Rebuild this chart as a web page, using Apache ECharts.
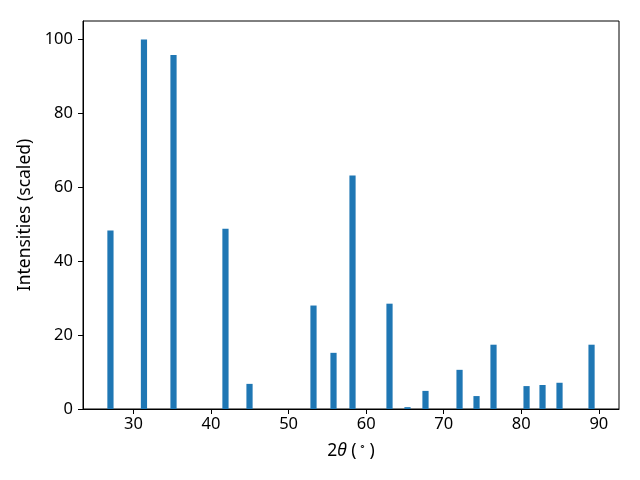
<!DOCTYPE html>
<html>
<head>
<meta charset="utf-8">
<script src="https://cdn.jsdelivr.net/npm/echarts@6/dist/echarts.min.js"></script>
<style>html,body{margin:0;padding:0;background:#fff}#c{width:640px;height:480px}</style>
</head>
<body>
<div id="c"></div>
<script>
const twoTheta = [27.03, 31.35, 35.16, 41.86, 44.96, 53.21, 55.79, 58.24, 63.01, 65.33, 67.65, 72.04, 74.23, 76.42, 80.68, 82.74, 84.93, 89.06];
const intensity = [48.3, 100, 95.8, 48.8, 6.8, 28.0, 15.2, 63.2, 28.5, 0.5, 4.9, 10.6, 3.5, 17.4, 6.2, 6.5, 7.1, 17.4];
const xTicks = [30, 40, 50, 60, 70, 80, 90];
const yTicks = [0, 20, 40, 60, 80, 100];
const barWidthUnits = 0.8;

const data = twoTheta.map((x, i) => [x, intensity[i]]);
const chart = echarts.init(document.getElementById('c'), null, {renderer: 'canvas'});
const font = 'Noto Sans';
const fs = 16.5;
const nfs = 17.5;
chart.setOption({
  animation: false,
  backgroundColor: '#fff',
  grid: {left: 83, right: 21, top: 21, bottom: 71, show: true, borderColor: '#000', borderWidth: 1, backgroundColor: 'transparent'},
  xAxis: {
    type: 'value', min: 23.49, max: 92.6,
    splitLine: {show: false},
    axisLine: {show: true, onZero: false, lineStyle: {color: '#000', width: 1}},
    axisTick: {show: true, length: 5, lineStyle: {color: '#000'}, customValues: xTicks},
    axisLabel: {color: '#000', fontSize: fs, fontFamily: font, margin: 7, customValues: xTicks},
    name: '{n|2}{i|θ}{n| (}{s|∘}{n|)}',
    nameLocation: 'middle', nameGap: 32,
    nameTextStyle: {
      color: '#000', fontFamily: font, fontSize: nfs,
      rich: {
        n: {fontSize: nfs, fontFamily: font, color: '#000'},
        i: {fontSize: nfs, fontFamily: font, fontStyle: 'italic', color: '#000'},
        s: {fontSize: 11, fontFamily: font, color: '#000', padding: [0, 3, 9, 3]}
      }
    }
  },
  yAxis: {
    type: 'value', min: 0, max: 105,
    splitLine: {show: false},
    axisLine: {show: true, lineStyle: {color: '#000', width: 1}},
    axisTick: {show: true, length: 5, lineStyle: {color: '#000'}, customValues: yTicks},
    axisLabel: {color: '#000', fontSize: fs, fontFamily: font, margin: 10, customValues: yTicks},
    name: 'Intensities (scaled)', nameLocation: 'middle', nameGap: 46,
    nameTextStyle: {color: '#000', fontFamily: font, fontSize: nfs}
  },
  series: [{
    type: 'custom',
    data: data,
    encode: {x: 0, y: 1},
    renderItem: function (params, api) {
      const x = api.value(0), y = api.value(1);
      const p0 = api.coord([x - barWidthUnits / 2, y]);
      const p1 = api.coord([x + barWidthUnits / 2, 0]);
      return {
        type: 'rect',
        shape: {x: p0[0], y: p0[1], width: p1[0] - p0[0], height: p1[1] - p0[1]},
        style: {fill: '#1f77b4'}
      };
    }
  }]
});
</script>
</body>
</html>
